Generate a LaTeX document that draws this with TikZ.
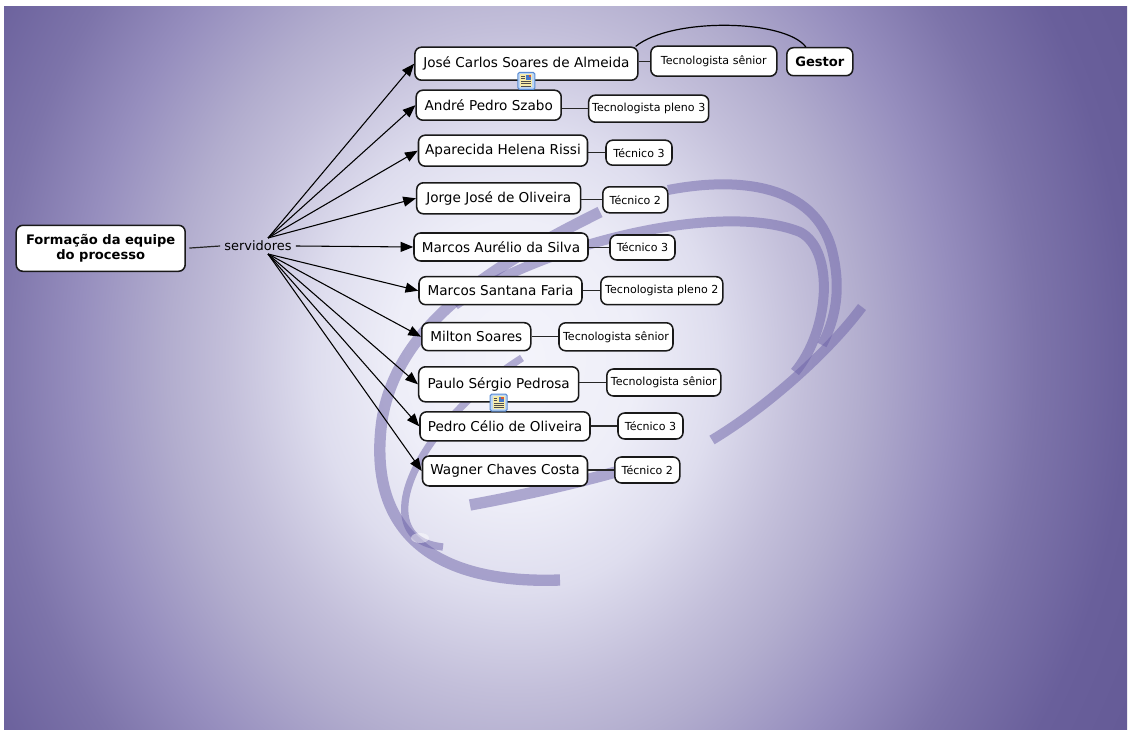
\documentclass[tikz,border=0pt]{standalone}
\usepackage{fontspec}
\setmainfont{DejaVu Sans}
\usetikzlibrary{arrows.meta,calc}

\definecolor{bg0}{RGB}{244,244,251}
\definecolor{bg1}{RGB}{238,238,248}
\definecolor{bg2}{RGB}{222,221,238}
\definecolor{bg3}{RGB}{195,191,218}
\definecolor{bg4}{RGB}{178,173,206}
\definecolor{bg5}{RGB}{150,142,190}
\definecolor{bg6}{RGB}{125,116,170}
\definecolor{bg7}{RGB}{105,95,155}
\definecolor{bg8}{RGB}{100,90,150}
\definecolor{swirlC}{RGB}{108,98,168}
\definecolor{iconRim}{RGB}{90,140,210}
\definecolor{iconFill}{RGB}{190,215,245}
\definecolor{iconPaper}{RGB}{246,236,170}
\definecolor{iconPic}{RGB}{70,120,200}
\definecolor{iconSun}{RGB}{210,90,60}

% soft glow behind the map, used at its natural size
\pgfdeclareradialshading{bgglow}{\pgfpoint{0bp}{0bp}}{%
  color(0bp)=(bg0); color(90bp)=(bg1); color(151bp)=(bg2);
  color(215bp)=(bg3); color(260bp)=(bg4); color(327bp)=(bg5);
  color(388bp)=(bg6); color(459bp)=(bg7); color(527bp)=(bg8)}

\tikzset{
  wh/.style 2 args={minimum width=#1*0.75pt, minimum height=#2*0.75pt},
  concept/.style={draw=black!90, line width=1.15pt, fill=white, rounded corners=5pt,
    inner sep=0pt, align=center, text=black},
  person/.style={concept, font=\fontsize{10.2pt}{11pt}\selectfont},
  role/.style={concept, font=\fontsize{8.3pt}{9pt}\selectfont},
  headbox/.style={concept, font=\fontsize{9.8pt}{11.25pt}\selectfont\bfseries},
  phrase/.style={inner sep=4*0.75pt, font=\fontsize{9.7pt}{11pt}\selectfont},
  link/.style={draw=black!85, line width=0.9pt},
  arr/.style={draw=black, line width=0.8pt, -{Triangle[length=9.5pt,width=7.5pt]}},
  ribbon/.style={draw=swirlC, line width=7.5pt, opacity=0.5, line cap=butt},
  thinribbon/.style={ribbon, line width=5.5pt},
  noteicon/.pic={
    \draw[rounded corners=1.2pt, fill=iconFill, draw=iconRim, line width=0.8pt]
      (-8.5,-8.5) rectangle (8.5,8.5);
    \fill[iconPaper] (-6,-6.5) rectangle (6,6.5);
    \draw[black!70, line width=0.7pt] (-5,4.5)--(-1.5,4.5) (-5,2)--(-1.5,2)
      (-5,-0.5)--(5,-0.5) (-5,-3)--(5,-3) (-5,-5.3)--(5,-5.3);
    \fill[iconPic] (0,1) rectangle (5,6);
    \fill[iconSun] (2.5,3.5) rectangle (5,6);
  }
}

\begin{document}
\begin{tikzpicture}[x=0.75pt, y=0.75pt]
  \useasboundingbox (0,0) rectangle (1131,-730);
  \fill[white] (0,0) rectangle (1131,-730);

  % background
  \begin{scope}
    \clip (4,-7) rectangle (1127,-730);
    \fill[bg8] (4,-7) rectangle (1127,-730);
    \node[inner sep=0pt, outer sep=0pt] (glow) at (515,-360)
      {\scalebox{1}[1.15]{\pgfuseshading{bgglow}}};
  \end{scope}

  % swirling ribbons
  \draw[ribbon] (668,-190) .. controls (740,-176) and (815,-185) .. (832,-250)
                .. controls (842,-290) and (835,-320) .. (822,-345);
  \draw[ribbon] (455,-305) .. controls (540,-245) and (720,-200) .. (800,-232)
                .. controls (835,-250) and (830,-330) .. (795,-372);
  \draw[ribbon, line width=8.5pt] (470,-505) .. controls (530,-494) and (590,-480) .. (640,-465);
  \draw[ribbon] (712,-440) .. controls (770,-405) and (830,-350) .. (862,-307);
  \draw[ribbon, line width=8.5pt] (600,-212) .. controls (500,-262) and (398,-320) .. (382,-420)
                .. controls (368,-520) and (420,-585) .. (560,-580);
  \draw[thinribbon] (522,-358) .. controls (455,-400) and (400,-470) .. (405,-515)
                .. controls (408,-538) and (425,-545) .. (443,-547);
  \fill[white, opacity=0.45] (420,-538) ellipse (9 and 5);

  % concepts
  \node[headbox, wh={169}{46}] (root) at (100.7,-248.3) {Formação da equipe\\do processo};
  \node[phrase] (serv) at (258,-246) {servidores};

  \node[person, wh={223}{33}] (jose)   at (526.4,-63.7) {José Carlos Soares de Almeida};
  \node[person, wh={145}{30}] (andre)  at (488.7,-105.2) {André Pedro Szabo};
  \node[person, wh={169}{31}] (apar)   at (503,-150.7) {Aparecida Helena Rissi};
  \node[person, wh={164}{31}] (jorge)  at (498.7,-198.3) {Jorge José de Oliveira};
  \node[person, wh={174}{28}] (aurel)  at (501,-247) {Marcos Aurélio da Silva};
  \node[person, wh={163}{28}] (santa)  at (500.5,-290.7) {Marcos Santana Faria};
  \node[person, wh={109}{28}] (milton) at (476.3,-336.7) {Milton Soares};
  \node[person, wh={160}{35}] (paulo)  at (498.7,-384.3) {Paulo Sérgio Pedrosa};
  \node[person, wh={170}{29}] (pedro)  at (505,-426.3) {Pedro Célio de Oliveira};
  \node[person, wh={165}{30}] (wagner) at (505,-471) {Wagner Chaves Costa};

  \node[role, wh={126}{30}] (rjose)   at (713.8,-61.2) {Tecnologista sênior};
  \node[headbox, wh={66}{28}] (gestor) at (819.8,-61.7) {Gestor};
  \node[role, wh={120}{27}] (randre)  at (648.7,-108.7) {Tecnologista pleno 3};
  \node[role, wh={66}{25}]  (rapar)   at (639,-152.7) {Técnico 3};
  \node[role, wh={65}{26}]  (rjorge)  at (635.3,-199.8) {Técnico 2};
  \node[role, wh={65}{25}]  (raurel)  at (642.5,-247.5) {Técnico 3};
  \node[role, wh={122}{28}] (rsanta)  at (661.8,-290.7) {Tecnologista pleno 2};
  \node[role, wh={114}{28}] (rmilton) at (616,-336.8) {Tecnologista sênior};
  \node[role, wh={114}{27}] (rpaulo)  at (663.8,-382.5) {Tecnologista sênior};
  \node[role, wh={65}{26}]  (rpedro)  at (650.5,-426) {Técnico 3};
  \node[role, wh={65}{26}]  (rwagner) at (647.3,-470) {Técnico 2};

  % attached notes
  \pic at (jose.south) {noteicon};
  \pic at (paulo.south) {noteicon};

  % connectors
  \coordinate (su) at (268,-238);
  \coordinate (sd) at (268,-254);
  \draw[link, shorten <=2.5pt] (root.east) -- (serv.west);
  \draw[arr] (su) -- (jose.west);
  \draw[arr] (su) -- (andre.west);
  \draw[arr] (su) -- (apar.west);
  \draw[arr] (su) -- (jorge.west);
  \draw[arr] (serv.east) -- (aurel.west);
  \draw[arr] (sd) -- (santa.west);
  \draw[arr] (sd) -- (milton.west);
  \draw[arr] (sd) -- (paulo.west);
  \draw[arr] (sd) -- (pedro.west);
  \draw[arr] (sd) -- (wagner.west);

  \foreach \p/\r in {jose/rjose, andre/randre, apar/rapar, jorge/rjorge,
                     aurel/raurel, santa/rsanta, milton/rmilton, paulo/rpaulo,
                     pedro/rpedro, wagner/rwagner}
    \draw[link] (\r.west -| \p.east) -- (\r.west);

  \draw[line width=0.9pt] ($(jose.north east)+(-3,0)$)
    .. controls ++(35,29) and ($(gestor.north)+(-35,28)$) .. ($(gestor.north)+(-14,0)$);
\end{tikzpicture}
\end{document}
